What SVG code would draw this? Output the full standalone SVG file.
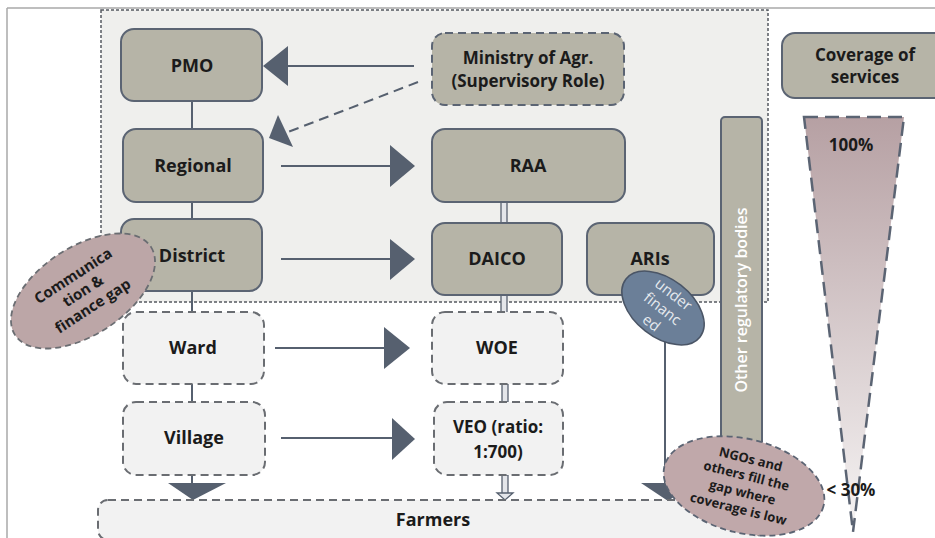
<svg xmlns="http://www.w3.org/2000/svg" width="935" height="538" viewBox="0 0 935 538">
<defs>
<linearGradient id="funnelGrad" x1="0" y1="0" x2="0" y2="1">
<stop offset="0" stop-color="#b6a0a3"/>
<stop offset="1" stop-color="#f6f4f4"/>
</linearGradient>
<style>
.t{font-family:"Open Sans","Liberation Sans",sans-serif;font-weight:700;fill:#1b1b1b;text-anchor:middle}
.box{fill:#b6b4a7;stroke:#5b6473;stroke-width:2}
.lbox{fill:#f2f2f2;stroke:#6a6d72;stroke-width:2;stroke-dasharray:8 5}
.ln{stroke:#56606f;stroke-width:2;fill:none}
.ah{fill:#56606f}
.dbl{fill:#e4e6ea;stroke:#56606f;stroke-width:1.3}
.w{font-family:"Open Sans","Liberation Sans",sans-serif;fill:#e6eaef;text-anchor:middle}
</style>
</defs>
<rect width="935" height="538" fill="#ffffff"/>
<line x1="7" y1="8" x2="935" y2="8" stroke="#a8a8a8" stroke-width="1.5"/>
<line x1="7" y1="8" x2="7" y2="538" stroke="#a8a8a8" stroke-width="1.5"/>
<rect id="region" x="101" y="10" width="667" height="292" fill="#efefed" stroke="#555a60" stroke-width="1.5" stroke-dasharray="3 2"/>

<g id="connectors">
<line class="ln" x1="414" y1="66" x2="285" y2="66"/>
<polygon class="ah" points="263,66 288,46 288,86"/>
<line class="ln" x1="418" y1="82" x2="288" y2="132" stroke-dasharray="10 6" stroke-width="2.5"/>
<polygon class="ah" points="278,115 269,138 293,147"/>
<line class="ln" x1="192" y1="101" x2="192" y2="129"/>
<line class="ln" x1="192" y1="202" x2="192" y2="219"/>
<line class="ln" x1="192" y1="291" x2="192" y2="312"/>
<line class="ln" x1="188" y1="312" x2="196" y2="312"/>
<line class="ln" x1="192" y1="384" x2="192" y2="402"/>
<line class="ln" x1="192" y1="475" x2="192" y2="484"/>
<polygon class="ah" points="168,483 226,483 193,500"/>
<line class="ln" x1="281" y1="166" x2="392" y2="166"/>
<polygon class="ah" points="390,145 415,166 390,187"/>
<line class="ln" x1="281" y1="259" x2="392" y2="259"/>
<polygon class="ah" points="390,239 415,259 390,280"/>
<line class="ln" x1="275" y1="348" x2="386" y2="348" stroke-width="4"/>
<polygon class="ah" points="384,327 410,348 384,369"/>
<line class="ln" x1="281" y1="438" x2="394" y2="438"/>
<polygon class="ah" points="392,418 415,439 392,460"/>
<rect class="dbl" x="501" y="202" width="6" height="21"/>
<rect class="dbl" x="501" y="295" width="6" height="20"/>
<rect class="dbl" x="502" y="384" width="6" height="18"/>
<rect class="dbl" x="502" y="475" width="6" height="19"/>
<polygon class="dbl" points="497,493 513,493 505,500"/>
<line class="ln" x1="665" y1="340" x2="665" y2="486"/>
<polygon class="ah" points="641,483 694,483 668,501"/>
</g>

<g id="pmo"><rect class="box" x="121" y="29" width="141" height="72" rx="13"/><text class="t" x="192" y="72" font-size="18">PMO</text></g>
<g id="regional"><rect class="box" x="123" y="129" width="140" height="73" rx="13"/><text class="t" x="193" y="172" font-size="18">Regional</text></g>
<g id="district"><rect class="box" x="121" y="219" width="141" height="72" rx="13"/><text class="t" x="192" y="262" font-size="18">District</text></g>
<g id="ministry"><rect class="box" x="432" y="33" width="192" height="72" rx="13" stroke-dasharray="8 5"/><text class="t" x="528" y="64" font-size="17">Ministry of Agr.</text><text class="t" x="528" y="87" font-size="17">(Supervisory Role)</text></g>
<g id="raa"><rect class="box" x="432" y="129" width="193" height="73" rx="13"/><text class="t" x="528" y="172" font-size="18">RAA</text></g>
<g id="daico"><rect class="box" x="432" y="223" width="130" height="72" rx="13"/><text class="t" x="497" y="265" font-size="18">DAICO</text></g>
<g id="aris"><rect class="box" x="587" y="223" width="127" height="72" rx="13" fill="#cac8bd"/><text class="t" x="650" y="265" font-size="18">ARIs</text></g>
<g id="other-regulatory"><rect class="box" x="721" y="117" width="41" height="360" rx="4"/><text x="747" y="300" font-family="'Open Sans','Liberation Sans',sans-serif" font-weight="600" font-size="16" fill="#ffffff" text-anchor="middle" transform="rotate(-90 747 300)">Other regulatory bodies</text></g>
<g id="coverage"><rect class="box" x="782" y="33" width="166" height="65" rx="13"/><text class="t" x="865" y="61" font-size="17">Coverage of</text><text class="t" x="865" y="83" font-size="17">services</text></g>
<g id="funnel"><polygon points="804,117 904,117 853,532" fill="url(#funnelGrad)" stroke="#5b6473" stroke-width="2.5" stroke-dasharray="14 7"/><text class="t" x="851" y="151" font-size="17">100%</text><text class="t" x="851" y="496" font-size="17">&lt; 30%</text></g>
<g id="ward"><rect class="lbox" x="123" y="312" width="141" height="72" rx="13"/><text class="t" x="193" y="354" font-size="18">Ward</text></g>
<g id="village"><rect class="lbox" x="123" y="402" width="142" height="73" rx="13"/><text class="t" x="194" y="444" font-size="18">Village</text></g>
<g id="woe"><rect class="lbox" x="432" y="312" width="131" height="72" rx="13"/><text class="t" x="497" y="354" font-size="18">WOE</text></g>
<g id="veo"><rect class="lbox" x="434" y="402" width="129" height="73" rx="13"/><text class="t" x="498" y="433" font-size="17">VEO (ratio:</text><text class="t" x="498" y="458" font-size="17">1:700)</text></g>
<g id="farmers"><rect class="lbox" x="98" y="500" width="662" height="40" rx="10"/><text class="t" x="433" y="526" font-size="18">Farmers</text></g>

<g id="comm-gap" transform="translate(83 291) rotate(-33)"><ellipse cx="0" cy="0" rx="81" ry="44" fill="#bca6a7" stroke="#6a6d72" stroke-width="1.8" stroke-dasharray="6 4"/><text class="t" x="0" y="-13" font-size="15">Communica</text><text class="t" x="0" y="5" font-size="15">tion &amp;</text><text class="t" x="0" y="23" font-size="15">finance gap</text></g>
<g id="under-financed" transform="translate(663 308) rotate(38)"><ellipse cx="0" cy="0" rx="47" ry="29" fill="#6b7f98" stroke="#4a5566" stroke-width="1.5"/><text class="w" x="0" y="-12" font-size="15">under</text><text class="w" x="0" y="6" font-size="15">financ</text><text class="w" x="0" y="24" font-size="15">ed</text></g>
<g id="ngos" transform="translate(744 486) rotate(14)"><ellipse cx="0" cy="0" rx="82" ry="47" fill="#c0a8aa" stroke="#5b6473" stroke-width="1.8" stroke-dasharray="6 4"/><text class="t" x="0" y="-23" font-size="13">NGOs and</text><text class="t" x="0" y="-6" font-size="13">others fill the</text><text class="t" x="0" y="11" font-size="13">gap where</text><text class="t" x="0" y="28" font-size="13">coverage is low</text></g>
</svg>
